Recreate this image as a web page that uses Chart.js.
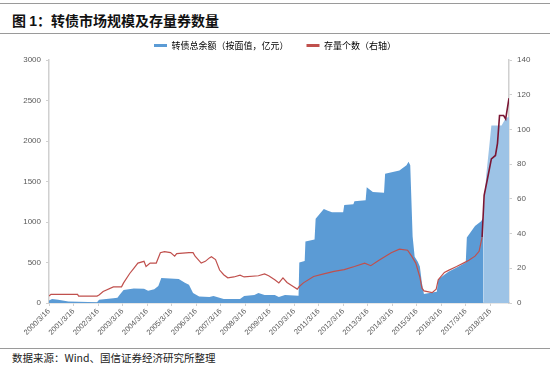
<!DOCTYPE html>
<html lang="zh">
<head>
<meta charset="UTF-8" />
<title>转债市场规模及存量券数量</title>
<script src="https://cdn.jsdelivr.net/npm/chart.js"></script>
<style>
  body { margin: 0; width: 550px; height: 368px; background: #fff; position: relative; overflow: hidden; font-family: "Noto Sans CJK SC", sans-serif; }
  .topline { position: absolute; left: 0; right: 0; top: 3px; border-top: 1px solid #9a9a9a; }
  .title { position: absolute; left: 12px; top: 10px; font-size: 14px; font-weight: bold; color: #111; line-height: 20px; }
  .title b { font-family: "Liberation Sans", sans-serif; }
  .midline { position: absolute; left: 0; right: 0; top: 33px; border-top: 1px solid #9a9a9a; }
  .box { position: absolute; left: 0; top: 21px; width: 550px; height: 327px; }
  .botline { position: absolute; left: 0; right: 0; top: 348px; border-top: 1px solid #9a9a9a; }
  .source { position: absolute; left: 12px; top: 350px; font-size: 10.5px; color: #222; line-height: 16px; }
</style>
</head>
<body>
<div class="topline"></div>
<div class="title">图 <b>1</b>：转债市场规模及存量券数量</div>
<div class="midline"></div>
<div class="box"><canvas id="chart"></canvas></div>
<div class="botline"></div>
<div class="source">数据来源：Wind、国信证券经济研究所整理</div>

<script>
// 转债总余额（亿元）
const balanceDates = [
  '2000-03-16','2000-05-01','2000-08-01','2001-01-01','2001-06-01','2002-03-01','2002-04-01','2002-11-01',
  '2003-01-01','2003-02-01','2003-04-01','2003-09-01','2004-02-01','2004-04-01','2004-07-01','2004-09-01',
  '2004-10-15','2005-07-01','2005-10-01','2005-12-01','2006-02-01','2006-05-01','2006-10-01','2006-12-01',
  '2007-05-01','2008-01-01','2008-03-01','2008-08-01','2008-10-01','2009-01-01','2009-06-01','2009-08-01',
  '2009-11-01','2010-05-20','2010-06-01','2010-08-20','2010-09-01','2011-01-15','2011-02-01','2011-06-01',
  '2011-08-01','2011-10-01','2012-03-15','2012-04-01','2012-08-15','2012-09-01','2013-02-15','2013-03-01',
  '2013-06-01','2013-11-15','2013-12-01','2014-07-01','2014-10-15','2014-11-15','2014-12-10','2015-01-15',
  '2015-02-15','2015-04-01','2015-05-01','2015-06-01','2015-07-01','2015-11-01','2016-01-10','2016-02-01',
  '2016-05-01','2016-07-01','2016-12-01','2017-03-15','2017-04-01','2017-08-01','2017-11-01','2017-12-01'
];
const balanceValues = [
  30, 50, 40, 20, 15, 10, 40, 60,
  65, 100, 160, 180, 175, 150, 170, 210,
  310, 295, 250, 225, 125, 80, 75, 85,
  50, 50, 85, 100, 125, 100, 100, 75,
  100, 90, 500, 520, 760, 785, 1040, 1160,
  1140, 1120, 1120, 1210, 1220, 1255, 1270, 1430,
  1370, 1360, 1595, 1635, 1700, 1745, 1700, 820,
  570, 510, 450, 250, 110, 130, 140, 290,
  350, 385, 450, 500, 810, 950, 1010, 1050
];
const balanceDates2018 = ['2017-12-01','2018-01-15','2018-03-01','2018-04-01','2018-09-01','2018-11-01','2018-12-20'];
const balanceValues2018 = [1050, 1570, 1940, 2190, 2190, 2280, 2300];

// 存量个数（右轴）
const countDates = [
  '2000-03-16','2000-04-15','2001-05-15','2001-06-01','2002-03-01','2002-04-01','2002-06-01','2002-11-01',
  '2003-03-01','2003-04-01','2003-07-01','2003-09-01','2003-11-01','2004-02-01','2004-03-01','2004-05-01',
  '2004-08-01','2004-10-01','2004-12-01','2005-03-01','2005-05-01','2005-06-01','2005-12-01','2006-02-01',
  '2006-03-01','2006-06-01','2006-08-01','2006-10-01','2006-11-01','2007-01-01','2007-03-01','2007-05-01',
  '2007-07-01','2007-10-01','2008-01-01','2008-03-01','2008-10-01','2009-01-01','2009-03-01','2009-06-01',
  '2009-08-01','2009-10-01','2009-12-01','2010-03-01','2010-05-01','2010-06-01','2010-08-01','2011-01-01',
  '2011-06-01','2011-11-01','2012-04-01','2012-09-01','2013-02-01','2013-05-01','2013-09-01','2014-03-01',
  '2014-07-01','2014-11-01','2015-01-01','2015-03-01','2015-05-01','2015-06-01','2015-07-01','2015-11-01',
  '2016-01-01','2016-02-01','2016-05-01','2016-07-01','2016-11-01','2017-03-01','2017-05-01','2017-08-01',
  '2017-10-01','2017-11-15','2017-12-15','2018-02-01','2018-04-01','2018-06-01','2018-07-01','2018-08-01',
  '2018-10-01','2018-11-01','2018-12-20'
];
const countValues = [
  4, 5, 5, 4, 4, 4.6, 6.6, 9.3,
  9.3, 11.6, 17, 20, 23, 24, 21, 23,
  23, 29, 29.6, 29, 27, 28.5, 29, 29,
  27, 23, 24, 26, 26.7, 25, 19, 16.3,
  14.5, 15, 16, 15, 15.7, 16.8, 15.7, 13.4,
  11.6, 14.5, 11.8, 9.5, 8, 9.5, 11.6, 15.3,
  16.8, 18.2, 19.2, 21, 23, 21.5, 24.6, 29,
  31, 30.4, 27, 23, 15, 8.7, 7, 6,
  8, 13.4, 17.6, 18.8, 21, 23.4, 24.6, 27,
  29.8, 38, 62, 71, 83, 85, 92, 108,
  108, 106, 118
];

const yearLabels = ['2000/3/16','2001/3/16','2002/3/16','2003/3/16','2004/3/16','2005/3/16','2006/3/16',
  '2007/3/16','2008/3/16','2009/3/16','2010/3/16','2011/3/16','2012/3/16','2013/3/16','2014/3/16',
  '2015/3/16','2016/3/16','2017/3/16','2018/3/16'];

// months since 2000/3/16
function monthIndex(s) {
  const [y, m, d] = s.split('-').map(Number);
  return (y - 2000) * 12 + (m - 3) + (d - 16) / 30;
}
const toPoints = (dates, vals) => dates.map((d, i) => ({ x: monthIndex(d), y: vals[i] }));

const tickFont = { family: '"Liberation Sans", Arial, sans-serif', size: 8 };
const axisGrid = { display: true, drawOnChartArea: false, drawTicks: true, tickLength: 3, color: '#d0d0d0' };
const axisBorder = { display: true, color: '#d0d0d0', width: 1.5 };

new Chart(document.getElementById('chart'), {
  type: 'line',
  data: {
    datasets: [
      {
        label: '存量个数（右轴）',
        data: toPoints(countDates, countValues),
        yAxisID: 'y1',
        borderColor: '#c0504d',
        borderWidth: 1.2,
        pointRadius: 0,
        fill: false,
        tension: 0,
        segment: {
          borderColor: ctx => ctx.p0.parsed.x >= monthIndex('2017-11-01') ? '#7a1533' : '#c0504d',
          borderWidth: ctx => ctx.p0.parsed.x >= monthIndex('2017-11-01') ? 1.6 : 1.2
        }
      },
      {
        label: '转债总余额（按面值，亿元）',
        data: toPoints(balanceDates, balanceValues),
        yAxisID: 'y',
        borderWidth: 0,
        backgroundColor: '#5b9bd5',
        borderColor: '#5b9bd5',
        pointRadius: 0,
        fill: 'origin',
        tension: 0
      },
      {
        label: '2018',
        data: toPoints(balanceDates2018, balanceValues2018),
        yAxisID: 'y',
        borderWidth: 0,
        backgroundColor: '#9dc3e6',
        borderColor: '#9dc3e6',
        pointRadius: 0,
        fill: 'origin',
        tension: 0
      }
    ]
  },
  options: {
    responsive: true,
    maintainAspectRatio: false,
    animation: false,
    layout: { padding: { top: 2, left: 0, right: 0, bottom: 0 } },
    plugins: {
      tooltip: { enabled: false },
      legend: {
        position: 'top',
        reverse: true,
        labels: {
          font: { family: '"Noto Sans CJK SC", sans-serif', size: 9 },
          color: '#333',
          boxWidth: 13,
          boxHeight: 3,
          padding: 18,
          filter: item => item.text !== '2018',
          generateLabels: chart => chart.data.datasets.map((ds, i) => ({
            text: ds.label,
            fillStyle: ds.yAxisID === 'y1' ? '#c0504d' : ds.backgroundColor,
            strokeStyle: 'rgba(0,0,0,0)',
            lineWidth: 0,
            datasetIndex: i,
            hidden: false
          }))
        }
      }
    },
    scales: {
      x: {
        type: 'linear',
        min: 0,
        max: monthIndex('2018-12-20'),
        grid: axisGrid,
        border: axisBorder,
        afterBuildTicks: scale => { scale.ticks = yearLabels.map((l, i) => ({ value: i * 12 })); },
        afterFit: scale => { scale.height = 45; },
        ticks: {
          font: { family: '"Liberation Sans", Arial, sans-serif', size: 7.5 },
          color: '#595959',
          minRotation: 45,
          maxRotation: 45,
          autoSkip: false,
          padding: 1,
          callback: (v, i) => yearLabels[i]
        }
      },
      y: {
        position: 'left',
        min: 0,
        max: 3000,
        grid: axisGrid,
        border: axisBorder,
        afterFit: scale => { scale.width = 49; },
        ticks: { stepSize: 500, font: tickFont, color: '#595959', padding: 5, callback: v => String(v) }
      },
      y1: {
        position: 'right',
        min: 0,
        max: 140,
        grid: axisGrid,
        border: axisBorder,
        afterFit: scale => { scale.width = 41; },
        ticks: { stepSize: 20, font: tickFont, color: '#595959', padding: 5, callback: v => String(v) }
      }
    }
  }
});
</script>
</body>
</html>
